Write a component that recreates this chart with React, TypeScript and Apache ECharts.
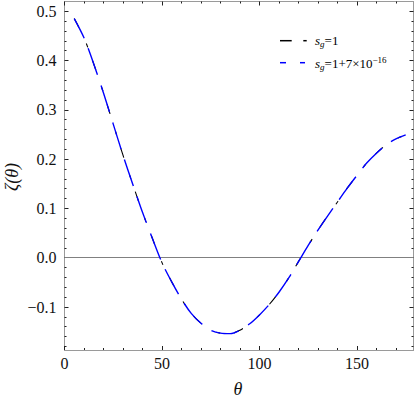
import React, { useEffect, useRef } from "react";
import * as echarts from "echarts";

// theta (degrees)
const theta = [5, 10, 15, 20, 25, 30, 35, 40, 45, 50, 55, 60, 65, 70, 75, 80, 85, 90, 95, 100, 105, 110, 115, 120, 125, 130, 135, 140, 145, 150, 155, 160, 165, 170, 175];
// zeta(theta) for s_g = 1
const zetaSg1 = [0.485, 0.446, 0.393, 0.334, 0.271, 0.208, 0.149, 0.092, 0.040, -0.010, -0.049, -0.084, -0.113, -0.133, -0.147, -0.153, -0.154, -0.147, -0.134, -0.116, -0.095, -0.070, -0.041, -0.008, 0.025, 0.056, 0.085, 0.113, 0.141, 0.167, 0.192, 0.212, 0.229, 0.241, 0.249];
// zeta(theta) for s_g = 1 + 7e-16 (visually identical)
const zetaSg1Eps = [0.485, 0.446, 0.393, 0.334, 0.271, 0.208, 0.149, 0.092, 0.040, -0.010, -0.049, -0.084, -0.113, -0.133, -0.147, -0.153, -0.154, -0.147, -0.134, -0.116, -0.095, -0.070, -0.041, -0.008, 0.025, 0.056, 0.085, 0.113, 0.141, 0.167, 0.192, 0.212, 0.229, 0.241, 0.249];

const xMajor = [0, 50, 100, 150];
const xMinor = [10, 20, 30, 40, 60, 70, 80, 90, 110, 120, 130, 140, 160, 170];
const yMajor = [-0.1, 0, 0.1, 0.2, 0.3, 0.4, 0.5];
const yMinor = [-0.18, -0.16, -0.14, -0.12, -0.08, -0.06, -0.04, -0.02, 0.02, 0.04, 0.06, 0.08, 0.12, 0.14, 0.16, 0.18, 0.22, 0.24, 0.26, 0.28, 0.32, 0.34, 0.36, 0.38, 0.42, 0.44, 0.46, 0.48];

const X_MIN = 0;
const X_MAX = 179;
const Y_MIN = -0.1872;
const Y_MAX = 0.5197;

const SERIF = '"Liberation Serif", "Times New Roman", serif';
const FRAME = "#9a9a9a";
const TICK = "#222";
const BLUE = "#0000ff";

function axisBase(pos: string, min: number, max: number, ticks: number[], len: number, labels: boolean, isY: boolean) {
  return {
    type: "value",
    position: pos,
    min,
    max,
    axisLine: { show: true, onZero: false, lineStyle: { color: FRAME, width: 1 } },
    axisTick: { show: true, inside: true, length: len, customValues: ticks, lineStyle: { color: TICK, width: 1 } },
    axisLabel: labels
      ? {
          show: true,
          customValues: ticks,
          fontFamily: SERIF,
          fontSize: 16,
          color: "#111",
          margin: isY ? 8 : 5,
          formatter: (v: number) => {
            if (!isY) return String(Math.round(v));
            const r = Math.round(v * 10) / 10;
            return r < 0 ? "\u2212" + Math.abs(r).toFixed(1) : r.toFixed(1);
          },
        }
      : { show: false, customValues: ticks },
    splitLine: { show: false },
    minorTick: { show: false },
  };
}

export default function App() {
  const ref = useRef<HTMLDivElement>(null);
  useEffect(() => {
    document.body.style.margin = "0";
    if (!ref.current) return;
    const chart = echarts.init(ref.current, null, { renderer: "svg" });
    const option: any = {
      animation: false,
      grid: { left: 64.5, right: 1.5, top: 1.5, bottom: 51, outerBoundsMode: "none", containLabel: false },
      xAxis: [
        axisBase("bottom", X_MIN, X_MAX, xMajor, 4, true, false),
        axisBase("bottom", X_MIN, X_MAX, xMinor, 2, false, false),
        axisBase("top", X_MIN, X_MAX, xMajor, 4, false, false),
        axisBase("top", X_MIN, X_MAX, xMinor, 2, false, false),
      ],
      yAxis: [
        axisBase("left", Y_MIN, Y_MAX, yMajor, 4, true, true),
        axisBase("left", Y_MIN, Y_MAX, yMinor, 2, false, true),
        axisBase("right", Y_MIN, Y_MAX, yMajor, 4, false, true),
        axisBase("right", Y_MIN, Y_MAX, yMinor, 2, false, true),
      ],
      series: [
        {
          name: "sg=1",
          type: "line",
          xAxisIndex: 0,
          yAxisIndex: 0,
          data: theta.map((t, i) => [t, zetaSg1[i]]),
          smooth: 0.3,
          showSymbol: false,
          symbol: "none",
          z: 2,
          lineStyle: { color: "#000", width: 1.1, type: [10, 18, 4, 14], dashOffset: 0 },
          markLine: {
            silent: true,
            symbol: ["none", "none"],
            label: { show: false },
            lineStyle: { color: "#808080", width: 1, type: "solid" },
            data: [{ yAxis: 0 }],
            z: 1,
          },
        },
        {
          name: "sg=1+7e-16",
          type: "line",
          xAxisIndex: 0,
          yAxisIndex: 0,
          data: theta.map((t, i) => [t, zetaSg1Eps[i]]),
          smooth: 0.3,
          showSymbol: false,
          symbol: "none",
          z: 3,
          lineStyle: { color: BLUE, width: 1.4, type: [28, 11], dashOffset: 6 },
        },
      ],
      graphic: [
        { type: "line", shape: { x1: 280, y1: 40.7, x2: 291.7, y2: 40.7 }, style: { stroke: "#000", lineWidth: 1.5 } },
        { type: "line", shape: { x1: 303.3, y1: 40.7, x2: 306.7, y2: 40.7 }, style: { stroke: "#000", lineWidth: 1.5 } },
        { type: "line", shape: { x1: 280, y1: 62.7, x2: 286, y2: 62.7 }, style: { stroke: BLUE, lineWidth: 1.5 } },
        { type: "line", shape: { x1: 300, y1: 62.7, x2: 305, y2: 62.7 }, style: { stroke: BLUE, lineWidth: 1.5 } },
        {
          type: "text",
          x: 315,
          y: 40.5,
          style: {
            text: "{i|s}{sub|g}{n|=1}",
            verticalAlign: "middle",
            align: "left",
            fill: "#000",
            rich: {
              i: { fontFamily: SERIF, fontStyle: "italic", fontSize: 13, fill: "#000", verticalAlign: "middle", lineHeight: 16 },
              sub: { fontFamily: SERIF, fontStyle: "italic", fontSize: 9, fill: "#000", verticalAlign: "bottom", lineHeight: 16 },
              n: { fontFamily: SERIF, fontSize: 13, fill: "#000", verticalAlign: "middle", lineHeight: 16 },
            },
          },
        },
        {
          type: "text",
          x: 315,
          y: 63,
          style: {
            text: "{i|s}{sub|g}{n|=1+7\u00d710}{sup|\u221216}",
            verticalAlign: "middle",
            align: "left",
            fill: "#000",
            rich: {
              i: { fontFamily: SERIF, fontStyle: "italic", fontSize: 13, fill: "#000", verticalAlign: "middle", lineHeight: 16 },
              sub: { fontFamily: SERIF, fontStyle: "italic", fontSize: 9, fill: "#000", verticalAlign: "bottom", lineHeight: 16 },
              n: { fontFamily: SERIF, fontSize: 13, fill: "#000", verticalAlign: "middle", lineHeight: 16 },
              sup: { fontFamily: SERIF, fontSize: 9, fill: "#000", verticalAlign: "top", lineHeight: 16 },
            },
          },
        },
        {
          type: "text",
          x: 238,
          y: 388.5,
          style: { text: "\u03b8", fontFamily: SERIF, fontStyle: "italic", fontSize: 18, fill: "#111", align: "center", verticalAlign: "middle" },
        },
        {
          type: "text",
          x: 12,
          y: 177,
          rotation: Math.PI / 2,
          style: { text: "\u03b6(\u03b8)", fontFamily: SERIF, fontStyle: "italic", fontSize: 18, fill: "#111", align: "center", verticalAlign: "middle" },
        },
      ],
    };
    chart.setOption(option);
    return () => chart.dispose();
  }, []);
  return <div ref={ref} style={{ width: 415, height: 401 }} />;
}
